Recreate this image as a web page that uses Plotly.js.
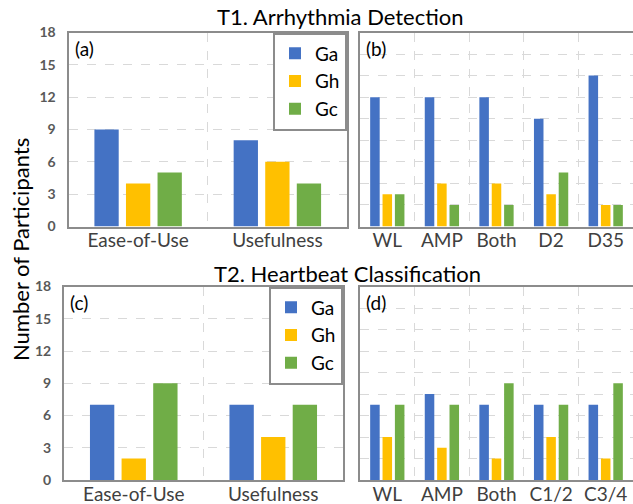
<!DOCTYPE html>
<html>
<head>
<meta charset="utf-8">
<script src="https://cdn.plot.ly/plotly-3.0.1.min.js"></script>
<style>html,body{margin:0;padding:0;background:#fff;}#chart{width:633px;height:504px;}</style>
</head>
<body>
<div id="chart"></div>
<script>
// ---- data ----
const groups = ['Ga', 'Gh', 'Gc'];
const groupColors = ['#4472C4', '#FFC000', '#70AD47'];
const aspects = ['Ease-of-Use', 'Usefulness'];
const t1Conditions = ['WL', 'AMP', 'Both', 'D2', 'D35'];
const t2Conditions = ['WL', 'AMP', 'Both', 'C1/2', 'C3/4'];

// (a) T1 ease-of-use / usefulness
const t1AspectGa = [9, 8];
const t1AspectGh = [4, 6];
const t1AspectGc = [5, 4];
// (b) T1 per condition
const t1CondGa = [12, 12, 12, 10, 14];
const t1CondGh = [3, 4, 4, 3, 2];
const t1CondGc = [3, 2, 2, 5, 2];
// (c) T2 ease-of-use / usefulness
const t2AspectGa = [7, 7];
const t2AspectGh = [2, 4];
const t2AspectGc = [9, 7];
// (d) T2 per condition
const t2CondGa = [7, 8, 7, 7, 7];
const t2CondGh = [4, 3, 2, 4, 2];
const t2CondGc = [7, 7, 9, 7, 9];

const titleT1 = 'T1. Arrhythmia Detection';
const titleT2 = 'T2. Heartbeat Classification';
const yTitle = 'Number of Participants';

// ---- build ----
const FONT = 'Lato, "Open Sans", sans-serif';
const W = 633, H = 504;
const px = v => v / W;
const py = v => 1 - v / H;

function panelTraces(cats, series, xa, ya, legendId, showLegend) {
  return series.map((vals, i) => ({
    type: 'bar', name: groups[i], x: cats, y: vals,
    xaxis: xa, yaxis: ya,
    marker: {color: groupColors[i]},
    showlegend: showLegend, legend: legendId,
    hoverinfo: 'x+y+name'
  }));
}

const data = [].concat(
  panelTraces(aspects, [t1AspectGa, t1AspectGh, t1AspectGc], 'x', 'y', 'legend', true),
  panelTraces(t1Conditions, [t1CondGa, t1CondGh, t1CondGc], 'x2', 'y2', 'legend', false),
  panelTraces(aspects, [t2AspectGa, t2AspectGh, t2AspectGc], 'x3', 'y3', 'legend2', true),
  panelTraces(t2Conditions, [t2CondGa, t2CondGh, t2CondGc], 'x4', 'y4', 'legend2', false)
);

const frame = '#8c8c8c';
const grid = '#d9d9d9';
function xAxis(domain, anchor) {
  return {
    domain: domain, anchor: anchor, type: 'category',
    showline: true, linecolor: frame, linewidth: 2, mirror: true,
    showgrid: true, gridcolor: grid, griddash: 'dash', gridwidth: 1,
    tickson: 'boundaries', ticks: '', ticklen: 0,
    ticklabelstandoff: -4,
    tickfont: {family: FONT, size: 19, color: '#404040'},
    fixedrange: true
  };
}
function yAxis(domain, anchor, dtick, labels, mirror) {
  return {
    domain: domain, anchor: anchor, range: [0, 18], dtick: dtick, tick0: 0,
    showline: true, linecolor: frame, linewidth: 2, mirror: mirror,
    showgrid: true, gridcolor: grid, griddash: 'dash', gridwidth: 1,
    zeroline: false, showticklabels: labels, ticks: '',
    ticklabelstandoff: 8,
    tickfont: {family: FONT, size: 14, color: '#595959', weight: 'bold'},
    fixedrange: true
  };
}

const aX = [px(68.5), px(347)];
const bX = [px(360), 1];
const cX = [px(64), px(343)];
const dX = [px(360), 1];
const topY = [py(226.5), py(32.5)];
const botY = [py(480), py(286.5)];

const legendCommon = {
  xref: 'paper', yref: 'paper', xanchor: 'right', yanchor: 'top',
  bgcolor: '#ffffff', bordercolor: frame, borderwidth: 2,
  font: {family: FONT, size: 19, color: '#000'},
  traceorder: 'normal', itemclick: false, itemdoubleclick: false
};

const layout = {
  width: W, height: H,
  margin: {l: 0, r: 0, t: 0, b: 0},
  paper_bgcolor: '#fff', plot_bgcolor: '#fff',
  barmode: 'group', bargap: 0.32, bargroupgap: 0.23,
  font: {family: FONT, color: '#000'},
  xaxis: xAxis(aX, 'y'),
  yaxis: yAxis(topY, 'x', 3, true, true),
  xaxis2: xAxis(bX, 'y2'),
  yaxis2: yAxis(topY, 'x2', 2, false, false),
  xaxis3: xAxis(cX, 'y3'),
  yaxis3: yAxis(botY, 'x3', 3, true, true),
  xaxis4: xAxis(dX, 'y4'),
  yaxis4: yAxis(botY, 'x4', 2, false, false),
  legend: Object.assign({}, legendCommon, {x: px(347), y: py(32.5)}),
  legend2: Object.assign({}, legendCommon, {x: px(343), y: py(286.5)}),
  annotations: [
    {text: titleT1, xref: 'paper', yref: 'paper', x: px(340), y: py(17), showarrow: false,
     font: {family: FONT, size: 22, color: '#000'}, xanchor: 'center', yanchor: 'middle'},
    {text: titleT2, xref: 'paper', yref: 'paper', x: px(347), y: py(273), showarrow: false,
     font: {family: FONT, size: 22, color: '#000'}, xanchor: 'center', yanchor: 'middle'},
    {text: yTitle, xref: 'paper', yref: 'paper', x: px(20), y: py(250), showarrow: false,
     textangle: -90, font: {family: FONT, size: 22, color: '#000'}, xanchor: 'center', yanchor: 'middle'},
    {text: '(a)', xref: 'x domain', yref: 'y domain', x: 0.015, y: 0.985, showarrow: false,
     xanchor: 'left', yanchor: 'top', font: {family: FONT, size: 19, color: '#000'}},
    {text: '(b)', xref: 'x2 domain', yref: 'y2 domain', x: 0.015, y: 0.985, showarrow: false,
     xanchor: 'left', yanchor: 'top', font: {family: FONT, size: 19, color: '#000'}},
    {text: '(c)', xref: 'x3 domain', yref: 'y3 domain', x: 0.015, y: 0.985, showarrow: false,
     xanchor: 'left', yanchor: 'top', font: {family: FONT, size: 19, color: '#000'}},
    {text: '(d)', xref: 'x4 domain', yref: 'y4 domain', x: 0.015, y: 0.985, showarrow: false,
     xanchor: 'left', yanchor: 'top', font: {family: FONT, size: 19, color: '#000'}}
  ]
};

Plotly.newPlot('chart', data, layout, {displayModeBar: false, staticPlot: true});
</script>
</body>
</html>
